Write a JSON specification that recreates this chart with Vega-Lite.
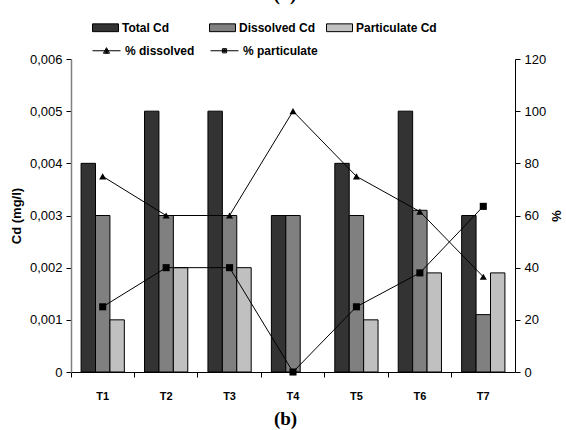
{
  "$schema": "https://vega.github.io/schema/vega-lite/v6.json",
  "autosize": "none",
  "width": 444,
  "height": 313,
  "padding": {"left": 71, "top": 59, "right": 51, "bottom": 58},
  "background": "white",
  "config": {
    "view": {"stroke": null},
    "font": "Liberation Sans",
    "axis": {"labelFont": "Liberation Sans", "titleFont": "Liberation Sans", "labelColor": "black", "titleColor": "black", "tickColor": "black", "domainColor": "black", "grid": false}
  },
  "title": {"text": "(a)", "font": "Liberation Serif", "fontSize": 20, "fontWeight": "bold", "anchor": "middle", "dx": -8, "offset": 10, "color": "black"},
  "datasets": {
    "bars": [
      {"t": "T1", "series": "Total Cd", "value": 0.004},
      {"t": "T1", "series": "Dissolved Cd", "value": 0.003},
      {"t": "T1", "series": "Particulate Cd", "value": 0.001},
      {"t": "T2", "series": "Total Cd", "value": 0.005},
      {"t": "T2", "series": "Dissolved Cd", "value": 0.003},
      {"t": "T2", "series": "Particulate Cd", "value": 0.002},
      {"t": "T3", "series": "Total Cd", "value": 0.005},
      {"t": "T3", "series": "Dissolved Cd", "value": 0.003},
      {"t": "T3", "series": "Particulate Cd", "value": 0.002},
      {"t": "T4", "series": "Total Cd", "value": 0.003},
      {"t": "T4", "series": "Dissolved Cd", "value": 0.003},
      {"t": "T5", "series": "Total Cd", "value": 0.004},
      {"t": "T5", "series": "Dissolved Cd", "value": 0.003},
      {"t": "T5", "series": "Particulate Cd", "value": 0.001},
      {"t": "T6", "series": "Total Cd", "value": 0.005},
      {"t": "T6", "series": "Dissolved Cd", "value": 0.0031},
      {"t": "T6", "series": "Particulate Cd", "value": 0.0019},
      {"t": "T7", "series": "Total Cd", "value": 0.003},
      {"t": "T7", "series": "Dissolved Cd", "value": 0.0011},
      {"t": "T7", "series": "Particulate Cd", "value": 0.0019}
    ],
    "pcts": [
      {"t": "T1", "series": "% dissolved", "pct": 75},
      {"t": "T2", "series": "% dissolved", "pct": 60},
      {"t": "T3", "series": "% dissolved", "pct": 60},
      {"t": "T4", "series": "% dissolved", "pct": 100},
      {"t": "T5", "series": "% dissolved", "pct": 75},
      {"t": "T6", "series": "% dissolved", "pct": 61.5},
      {"t": "T7", "series": "% dissolved", "pct": 36.5},
      {"t": "T1", "series": "% particulate", "pct": 25},
      {"t": "T2", "series": "% particulate", "pct": 40},
      {"t": "T3", "series": "% particulate", "pct": 40},
      {"t": "T4", "series": "% particulate", "pct": 0},
      {"t": "T5", "series": "% particulate", "pct": 25},
      {"t": "T6", "series": "% particulate", "pct": 38},
      {"t": "T7", "series": "% particulate", "pct": 63.5}
    ]
  },
  "encoding": {
    "x": {
      "field": "t", "type": "nominal",
      "scale": {"padding": 0},
      "axis": {
        "title": "(b)", "titleFont": "Liberation Serif", "titleFontSize": 19, "titleFontWeight": "bold",
        "titleX": 214, "titlePadding": 8,
        "labelAngle": 0, "labelFontWeight": "bold", "labelFontSize": 11, "labelPadding": 13,
        "tickSize": 5, "bandPosition": 0, "domainColor": "black"
      }
    }
  },
  "layer": [
    {
      "data": {"name": "bars"},
      "mark": {"type": "bar", "stroke": "black", "strokeWidth": 1},
      "encoding": {
        "xOffset": {"field": "series", "type": "nominal", "sort": ["Total Cd", "Dissolved Cd", "Particulate Cd"], "scale": {"domain": ["Total Cd", "Dissolved Cd", "Particulate Cd"], "paddingInner": 0, "paddingOuter": 0.7}},
        "y": {
          "field": "value", "type": "quantitative",
          "scale": {"domain": [0, 0.006]},
          "axis": {
            "title": "Cd (mg/l)", "titleFontWeight": "bold", "titleFontSize": 13,
            "values": [0, 0.001, 0.002, 0.003, 0.004, 0.005, 0.006],
            "labelExpr": "datum.value == 0 ? '0' : replace(format(datum.value, '.3f'), '.', ',')",
            "labelFontSize": 13, "tickSize": 5, "labelPadding": 4, "domainColor": "#808080", "domainWidth": 1.5, "titlePadding": 6
          }
        },
        "fill": {
          "field": "series", "type": "nominal",
          "sort": ["Total Cd", "Dissolved Cd", "Particulate Cd"],
          "scale": {"domain": ["Total Cd", "Dissolved Cd", "Particulate Cd"], "range": ["#333333", "#808080", "#c0c0c0"]},
          "legend": {
            "title": null, "orient": "none", "legendX": 21, "legendY": -45, "direction": "horizontal",
            "symbolType": "M-1,-0.3H1V0.3H-1Z", "symbolSize": 676, "symbolStrokeColor": "black", "symbolStrokeWidth": 1,
            "labelFont": "Liberation Sans", "labelFontWeight": "bold", "labelFontSize": 12, "labelColor": "black",
            "labelOffset": 3, "columnPadding": 4, "gridAlign": "all"
          }
        }
      }
    },
    {
      "data": {"name": "pcts"},
      "mark": {"type": "line", "color": "black", "strokeWidth": 1},
      "encoding": {
        "y": {"field": "pct", "type": "quantitative", "scale": {"domain": [0, 120]}, "axis": null},
        "detail": {"field": "series", "type": "nominal"}
      }
    },
    {
      "data": {"name": "pcts"},
      "mark": {"type": "point", "filled": true, "color": "black", "opacity": 1, "size": 50},
      "encoding": {
        "y": {
          "field": "pct", "type": "quantitative", "scale": {"domain": [0, 120]},
          "axis": {
            "orient": "right", "title": "%", "titleFontWeight": "bold", "titleFontSize": 13,
            "values": [0, 20, 40, 60, 80, 100, 120], "labelFontSize": 13, "tickSize": 5, "labelPadding": 4, "titlePadding": 3
          }
        },
        "shape": {
          "condition": {"test": "datum.series == '% dissolved'", "value": "triangle-up"},
          "value": "square"
        }
      }
    },
    {
      "data": {"name": "pcts"},
      "mark": {"type": "point", "filled": false, "color": "black", "strokeWidth": 1, "opacity": 0, "size": 10},
      "encoding": {
        "y": {"field": "pct", "type": "quantitative", "scale": {"domain": [0, 120]}, "axis": null},
        "shape": {
          "field": "series", "type": "nominal",
          "scale": {"domain": ["% dissolved", "% particulate"], "range": ["M-1,0H1M-0.22,0.18L0,-0.22L0.22,0.18ZM-0.12,0.12L0,-0.09L0.12,0.12ZM0,0.16V-0.14M-0.06,0.15H0.06", "M-1,0H1M-0.15,-0.15H0.15V0.15H-0.15ZM-0.08,-0.08H0.08V0.08H-0.08ZM-0.04,-0.04H0.04V0.04H-0.04Z"]},
          "legend": {
            "title": null, "orient": "none", "legendX": 21, "legendY": -23, "direction": "horizontal",
            "symbolSize": 784, "symbolFillColor": "black", "symbolStrokeColor": "black", "symbolStrokeWidth": 1, "symbolOpacity": 1,
            "labelFont": "Liberation Sans", "labelFontWeight": "bold", "labelFontSize": 12, "labelColor": "black",
            "labelOffset": 4, "columnPadding": 8, "gridAlign": "all"
          }
        }
      }
    }
  ],
  "resolve": {"scale": {"y": "independent"}}
}
